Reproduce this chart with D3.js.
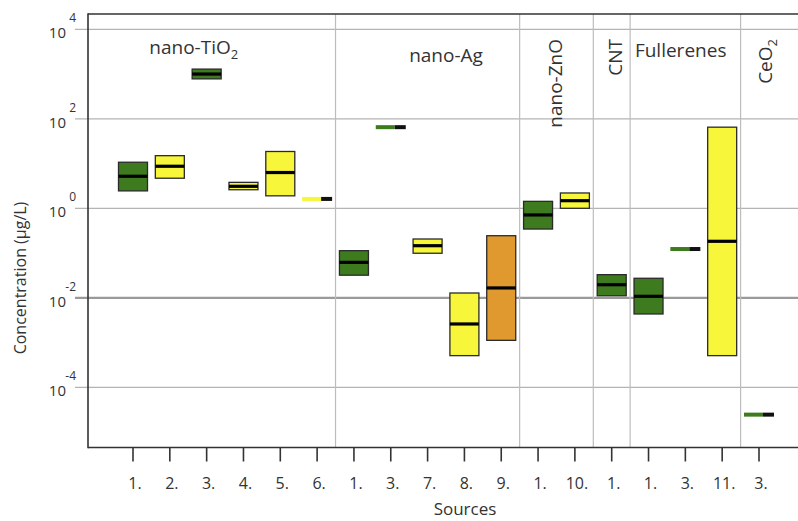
<!DOCTYPE html>
<html>
<head>
<meta charset="utf-8">
<script src="https://cdn.jsdelivr.net/npm/d3@7/dist/d3.min.js"></script>
<style>
  html, body { margin: 0; padding: 0; background: #fff; }
  svg { display: block; font-family: "Open Sans", "Noto Sans", sans-serif; }
</style>
</head>
<body>
<svg id="chart" width="798" height="521"></svg>
<script>
// Source labels along the x axis, one per box
const categories = ["1.", "2.", "3.", "4.", "5.", "6.", "1.", "3.", "7.", "8.", "9.", "1.", "10.", "1.", "1.", "3.", "11.", "3."];
// Material each source belongs to
const materials = ["nano-TiO2", "nano-TiO2", "nano-TiO2", "nano-TiO2", "nano-TiO2", "nano-TiO2",
                   "nano-Ag", "nano-Ag", "nano-Ag", "nano-Ag", "nano-Ag",
                   "nano-ZnO", "nano-ZnO", "CNT", "Fullerenes", "Fullerenes", "Fullerenes", "CeO2"];
// Concentration ranges (µg/L): low, central value, high
const lows    = [2.45, 4.7, 780, 2.6, 1.9, 1.62, 0.032, 65, 0.099, 0.00051, 0.00112, 0.344, 1.0, 0.0111, 0.00435, 0.123, 0.00051, 0.0000245];
const medians = [5.2, 8.7, 1000, 3.1, 6.3, 1.62, 0.062, 65, 0.146, 0.0026, 0.0166, 0.71, 1.48, 0.0196, 0.0108, 0.123, 0.183, 0.0000245];
const highs   = [10.7, 15, 1290, 3.8, 18.6, 1.62, 0.113, 65, 0.206, 0.0128, 0.244, 1.43, 2.2, 0.0329, 0.0273, 0.123, 65, 0.0000245];
// Type of each source (fill colour)
const kinds = ["green", "yellow", "green", "yellow", "yellow", "yellow",
               "green", "green", "yellow", "yellow", "orange",
               "green", "yellow", "green", "green", "green", "yellow", "green"];
// Y axis tick values
const yTicks = [1e4, 1e2, 1e0, 1e-2, 1e-4];
const yTickExps = ["4", "2", "0", "-2", "-4"];

const svg = d3.select("#chart");
const W = 798;
const plotLeft = 88, plotTop = 14, plotBottom = 447.5;

const color = d3.scaleOrdinal()
  .domain(["green", "yellow", "orange"])
  .range(["#3e7b1f", "#f7f63b", "#e0992f"]);

const y = d3.scaleLog().domain([1e-4, 1e4]).range([387.3, 29.3]);
const xIdx = d3.scaleLinear().domain([0, categories.length - 1]).range([133, 759]);
const boxW = 29;

// Horizontal gridlines with their tick stubs
svg.append("g").selectAll("line").data(yTicks).join("line")
  .attr("x1", plotLeft - 13).attr("x2", W)
  .attr("y1", d => y(d)).attr("y2", d => y(d))
  .attr("stroke", d => d === 1e-2 ? "#9a9a9a" : "#b4b4b4")
  .attr("stroke-width", d => d === 1e-2 ? 2.2 : 1.2);

// Vertical separators between materials
const seps = [];
for (let i = 1; i < materials.length; i++) {
  if (materials[i] !== materials[i - 1]) seps.push(i - 0.5);
}
svg.append("g").selectAll("line").data(seps).join("line")
  .attr("x1", d => xIdx(d)).attr("x2", d => xIdx(d))
  .attr("y1", plotTop).attr("y2", plotBottom)
  .attr("stroke", "#bdbdbd").attr("stroke-width", 1.2);

// Y tick labels: 10 with exponent
const yl = svg.append("g").attr("fill", "#333");
yl.selectAll("text.base").data(yTicks).join("text")
  .attr("class", "base")
  .attr("x", 66).attr("y", d => y(d) + 9)
  .attr("text-anchor", "end").attr("font-size", 15)
  .text("10");
yl.selectAll("text.exp").data(yTicks).join("text")
  .attr("class", "exp")
  .attr("x", 76).attr("y", d => y(d) - 7)
  .attr("text-anchor", "end").attr("font-size", 12)
  .text((d, i) => yTickExps[i]);

// Boxes
const marks = svg.append("g");
categories.forEach((c, i) => {
  const cx = xIdx(i);
  if (lows[i] === highs[i]) {
    // single reported value: thin coloured bar with a black end
    const yy = y(medians[i]);
    marks.append("rect").attr("x", cx - 15).attr("y", yy - 2).attr("width", 19).attr("height", 4)
      .attr("fill", color(kinds[i]));
    marks.append("rect").attr("x", cx + 4).attr("y", yy - 2).attr("width", 11).attr("height", 4)
      .attr("fill", "#111");
  } else {
    marks.append("rect")
      .attr("x", cx - boxW / 2).attr("y", y(highs[i]))
      .attr("width", boxW).attr("height", y(lows[i]) - y(highs[i]))
      .attr("fill", color(kinds[i]))
      .attr("stroke", "#2a2a2a").attr("stroke-width", 1.3);
    marks.append("line")
      .attr("x1", cx - boxW / 2).attr("x2", cx + boxW / 2)
      .attr("y1", y(medians[i])).attr("y2", y(medians[i]))
      .attr("stroke", "#000").attr("stroke-width", 3.2);
  }
});

// Frame: left axis, top border, bottom axis
svg.append("line").attr("x1", plotLeft).attr("x2", plotLeft).attr("y1", plotTop - 0.75).attr("y2", plotBottom + 0.75)
  .attr("stroke", "#333").attr("stroke-width", 1.6);
svg.append("line").attr("x1", plotLeft).attr("x2", W).attr("y1", plotTop).attr("y2", plotTop)
  .attr("stroke", "#333").attr("stroke-width", 1.6);
svg.append("line").attr("x1", plotLeft).attr("x2", W).attr("y1", plotBottom).attr("y2", plotBottom)
  .attr("stroke", "#333").attr("stroke-width", 1.6);

// X ticks and labels
const xt = svg.append("g");
xt.selectAll("line").data(categories).join("line")
  .attr("x1", (d, i) => xIdx(i)).attr("x2", (d, i) => xIdx(i))
  .attr("y1", plotBottom).attr("y2", plotBottom + 14)
  .attr("stroke", "#333").attr("stroke-width", 1.6);
xt.selectAll("text").data(categories).join("text")
  .attr("x", (d, i) => xIdx(i) + 2).attr("y", 489)
  .attr("text-anchor", "middle").attr("font-size", 16).attr("fill", "#333")
  .text(d => d);

// Axis titles
svg.append("text").attr("x", 465).attr("y", 515).attr("text-anchor", "middle")
  .attr("font-size", 17).attr("fill", "#333").text("Sources");
svg.append("text").attr("transform", "translate(26,278) rotate(-90)")
  .attr("text-anchor", "middle").attr("font-size", 16).attr("fill", "#333")
  .text("Concentration (µg/L)");

// Material labels
const lab = svg.append("g").attr("fill", "#333").attr("font-size", 19);
function addLabel(t, x, yy, anchor, rotate) {
  const m = t.match(/^(.*?)(\d)$/);
  const el = lab.append("text").attr("text-anchor", anchor)
    .attr("transform", rotate ? `translate(${x},${yy}) rotate(-90)` : `translate(${x},${yy})`);
  if (m) {
    el.append("tspan").text(m[1]);
    el.append("tspan").attr("dy", 5).attr("font-size", 13).text(m[2]);
  } else {
    el.text(t);
  }
}
addLabel("nano-TiO2", xIdx(1.65), 54, "middle", false);
addLabel("nano-Ag", xIdx(8.5), 62, "middle", false);
addLabel("nano-ZnO", 562, 39, "end", true);
addLabel("CNT", 622, 39, "end", true);
addLabel("Fullerenes", xIdx(13.63), 57, "start", false);
addLabel("CeO2", 772, 39, "end", true);
</script>
</body>
</html>
